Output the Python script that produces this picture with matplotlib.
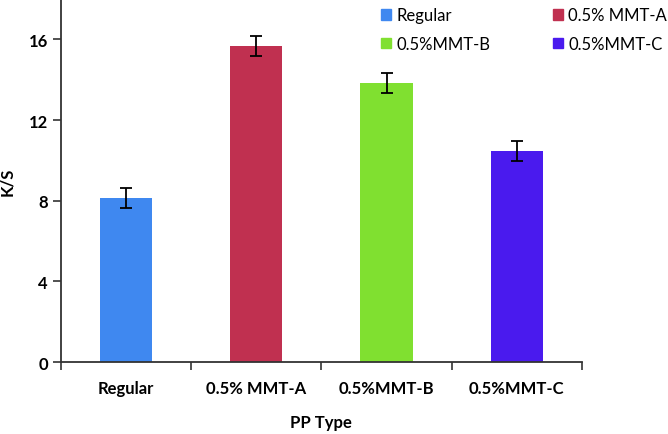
import matplotlib.pyplot as plt
from matplotlib.patches import Patch

plt.rcParams['font.family'] = ['Lato', 'DejaVu Sans']

# data
types = ['Regular', '0.5% MMT-A', '0.5%MMT-B', '0.5%MMT-C']
ks = [8.12, 15.68, 13.84, 10.46]
err = [0.49, 0.5, 0.5, 0.5]
colors = ['#3f88f0', '#c03050', '#80e030', '#4a1aee']

fig = plt.figure(figsize=(6.68, 4.35), dpi=100)
ax = fig.add_axes([0.0913, 0.1655, 0.7797, 0.8345])

x = list(range(len(types)))
ax.bar(x, ks, width=0.4, color=colors, yerr=err,
       error_kw=dict(ecolor='black', elinewidth=1.3, capsize=4, capthick=1.3))

ax.set_xlim(-0.5, 3.5)
ax.set_ylim(0, 18)
ax.set_yticks([0, 4, 8, 12, 16])
ax.set_xticks([-0.5, 0.5, 1.5, 2.5, 3.5], minor=False)
ax.set_xticklabels([])
ax.set_xticks(x, minor=True)
ax.set_xticklabels(types, minor=True)
ax.tick_params(axis='x', which='minor', length=0, pad=13, labelsize=12)
ax.tick_params(axis='x', which='major', length=6, direction='out', color='#333333', width=1.2)
ax.tick_params(axis='y', length=6, color='#333333', width=1.2, labelsize=12)
for lab in ax.get_xticklabels(minor=True) + ax.get_yticklabels():
    lab.set_fontweight('bold')

for s in ['top', 'right']:
    ax.spines[s].set_visible(False)
for s in ['left', 'bottom']:
    ax.spines[s].set_linewidth(1.3)
    ax.spines[s].set_color('#333333')

ax.set_ylabel('K/S', fontsize=12, fontweight='bold', labelpad=10)
ax.set_xlabel('PP Type', fontsize=12, fontweight='bold', labelpad=13)

# legend fills column-wise, so order handles to get rows Regular/A and B/C
order = [0, 2, 1, 3]
handles = [Patch(color=colors[i], label=types[i]) for i in order]
fig.legend(handles=handles, ncol=2, loc='upper left', bbox_to_anchor=(0.548, 1.015),
           frameon=False, fontsize=12, handlelength=0.6, handleheight=0.6,
           handletextpad=0.3, columnspacing=3.8, labelspacing=0.75)

plt.savefig('out.png', dpi=100)
